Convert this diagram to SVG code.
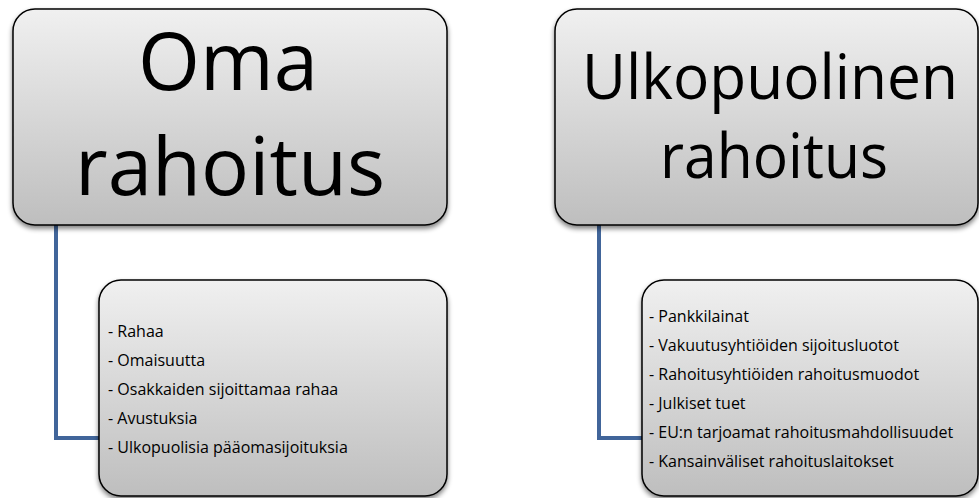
<svg xmlns="http://www.w3.org/2000/svg" width="979" height="498" viewBox="0 0 979 498">
<defs>
<linearGradient id="g" x1="0" y1="0" x2="0" y2="1">
<stop offset="0" stop-color="#f0f0f0"/>
<stop offset="1" stop-color="#bebebe"/>
</linearGradient>
<filter id="sh" x="-10%" y="-10%" width="120%" height="130%">
<feGaussianBlur in="SourceAlpha" stdDeviation="2.5"/>
<feOffset dx="0" dy="3" result="b"/>
<feComponentTransfer><feFuncA type="linear" slope="0.5"/></feComponentTransfer>
<feMerge><feMergeNode/><feMergeNode in="SourceGraphic"/></feMerge>
</filter>
</defs>
<style>
.box{fill:url(#g);stroke:#000;stroke-width:1.5;filter:url(#sh)}
.title{font-family:"Open Sans","Liberation Sans",sans-serif;fill:#000;text-anchor:middle}
.big{font-size:80px}
.mid{font-size:62px}
.item{font-family:"Open Sans","Liberation Sans",sans-serif;font-size:16px;fill:#000}
.conn{fill:none;stroke:#41659a;stroke-width:4}
</style>
<rect width="979" height="498" fill="#fff"/>
<g id="connectors">
<path class="conn" d="M56,225 V438 H100"/>
<path class="conn" d="M599,225 V438 H643"/>
</g>
<g id="oma">
<rect class="box" x="13" y="9" width="434" height="216" rx="22"/>
<text class="title big" x="228" y="90" textLength="180" lengthAdjust="spacingAndGlyphs">Oma</text>
<text class="title big" x="230" y="195" textLength="310" lengthAdjust="spacingAndGlyphs">rahoitus</text>
</g>
<g id="ulkopuolinen">
<rect class="box" x="555" y="9" width="423" height="216" rx="22"/>
<text class="title mid" x="770" y="99" textLength="376" lengthAdjust="spacingAndGlyphs">Ulkopuolinen</text>
<text class="title mid" x="774" y="178" textLength="228" lengthAdjust="spacingAndGlyphs">rahoitus</text>
</g>
<g id="oma-list">
<rect class="box" x="99" y="280" width="348" height="216" rx="22"/>
<text class="item" x="108" y="337">- Rahaa</text>
<text class="item" x="108" y="366">- Omaisuutta</text>
<text class="item" x="108" y="395">- Osakkaiden sijoittamaa rahaa</text>
<text class="item" x="108" y="424">- Avustuksia</text>
<text class="item" x="108" y="453">- Ulkopuolisia pääomasijoituksia</text>
</g>
<g id="ulko-list">
<rect class="box" x="642" y="280" width="336" height="216" rx="22"/>
<text class="item" x="649" y="322">- Pankkilainat</text>
<text class="item" x="649" y="351">- Vakuutusyhtiöiden sijoitusluotot</text>
<text class="item" x="649" y="380">- Rahoitusyhtiöiden rahoitusmuodot</text>
<text class="item" x="649" y="409">- Julkiset tuet</text>
<text class="item" x="649" y="438">- EU:n tarjoamat rahoitusmahdollisuudet</text>
<text class="item" x="649" y="467">- Kansainväliset rahoituslaitokset</text>
</g>
</svg>
